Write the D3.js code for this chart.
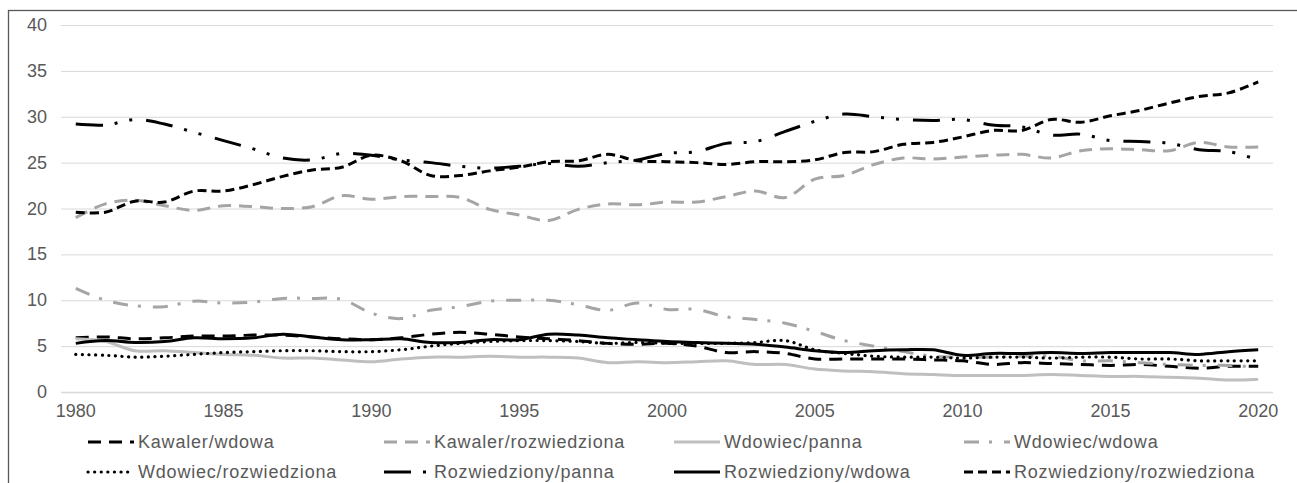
<!DOCTYPE html>
<html>
<head>
<meta charset="utf-8">
<script src="https://d3js.org/d3.v7.min.js"></script>
<style>
  body { margin: 0; background: #fff; }
  svg text { font-family: "Liberation Sans", Arial, sans-serif; fill: #595959; }
</style>
</head>
<body>
<svg id="chart" width="1297" height="483"></svg>
<script>
// years on the category axis
const years = d3.range(1980, 2021);
const xTickYears = [1980, 1985, 1990, 1995, 2000, 2005, 2010, 2015, 2020];
const yTicks = [0, 5, 10, 15, 20, 25, 30, 35, 40];

// series values, 1980..2020
const kawalerWdowa = [5.9, 6.0, 5.8, 5.9, 6.1, 6.1, 6.2, 6.2, 6.0, 5.8, 5.7, 5.9, 6.3, 6.5, 6.3, 6.0, 5.8, 5.6, 5.3, 5.2, 5.3, 5.0, 4.3, 4.4, 4.2, 3.6, 3.6, 3.6, 3.6, 3.5, 3.4, 3.0, 3.2, 3.1, 3.0, 2.9, 3.0, 2.8, 2.6, 2.8, 2.8];
const kawalerRozwiedziona = [19.0, 20.5, 20.9, 20.3, 19.8, 20.3, 20.2, 20.0, 20.2, 21.4, 21.0, 21.3, 21.3, 21.2, 19.9, 19.3, 18.7, 19.9, 20.5, 20.4, 20.7, 20.7, 21.3, 21.9, 21.2, 23.2, 23.6, 24.8, 25.5, 25.4, 25.6, 25.8, 25.9, 25.5, 26.3, 26.5, 26.4, 26.3, 27.2, 26.7, 26.7];
const wdowiecPanna = [5.8, 5.5, 4.5, 4.5, 4.3, 4.1, 4.0, 3.7, 3.7, 3.5, 3.3, 3.6, 3.8, 3.8, 3.9, 3.8, 3.8, 3.7, 3.2, 3.3, 3.2, 3.3, 3.4, 3.0, 3.0, 2.5, 2.3, 2.2, 2.0, 1.9, 1.8, 1.8, 1.8, 1.9, 1.8, 1.7, 1.7, 1.6, 1.5, 1.3, 1.4];
const wdowiecWdowa = [11.3, 10.0, 9.4, 9.3, 9.9, 9.7, 9.8, 10.2, 10.2, 10.1, 8.6, 8.0, 8.9, 9.3, 9.9, 10.0, 10.0, 9.5, 8.9, 9.7, 9.0, 9.0, 8.2, 7.9, 7.5, 6.6, 5.6, 5.0, 4.4, 3.9, 3.8, 3.8, 3.9, 3.9, 3.4, 3.4, 3.2, 3.0, 2.9, 2.9, 2.7];
const wdowiecRozwiedziona = [4.1, 4.0, 3.8, 3.9, 4.1, 4.3, 4.4, 4.5, 4.5, 4.4, 4.4, 4.6, 5.0, 5.3, 5.5, 5.6, 5.6, 5.5, 5.3, 5.4, 5.3, 5.3, 5.3, 5.4, 5.6, 4.6, 4.2, 3.9, 3.8, 3.8, 3.7, 3.8, 3.8, 3.7, 3.8, 3.8, 3.6, 3.6, 3.4, 3.4, 3.4];
const rozwiedzionyPanna = [29.2, 29.1, 29.7, 29.2, 28.3, 27.4, 26.5, 25.5, 25.3, 26.0, 25.8, 25.3, 25.0, 24.6, 24.4, 24.6, 24.9, 24.6, 25.0, 25.3, 26.0, 26.2, 27.1, 27.3, 28.4, 29.5, 30.3, 30.0, 29.7, 29.6, 29.7, 29.1, 28.9, 28.0, 28.1, 27.4, 27.3, 27.1, 26.4, 26.2, 25.3];
const rozwiedzionyWdowa = [5.3, 5.6, 5.4, 5.5, 5.9, 5.8, 5.9, 6.3, 6.0, 5.7, 5.7, 5.8, 5.4, 5.4, 5.7, 5.7, 6.3, 6.2, 5.9, 5.7, 5.5, 5.4, 5.3, 5.2, 4.9, 4.5, 4.3, 4.5, 4.6, 4.6, 4.0, 4.2, 4.2, 4.3, 4.2, 4.3, 4.3, 4.3, 4.1, 4.4, 4.6];
const rozwiedzionyRozwiedziona = [19.6, 19.6, 20.8, 20.7, 21.9, 21.9, 22.6, 23.5, 24.2, 24.5, 25.8, 25.2, 23.6, 23.6, 24.1, 24.5, 25.1, 25.2, 25.9, 25.2, 25.1, 25.0, 24.8, 25.1, 25.1, 25.3, 26.1, 26.2, 27.0, 27.2, 27.8, 28.5, 28.5, 29.7, 29.4, 30.1, 30.7, 31.5, 32.2, 32.6, 33.8];

const seriesNames = ["Kawaler/wdowa", "Kawaler/rozwiedziona", "Wdowiec/panna", "Wdowiec/wdowa",
  "Wdowiec/rozwiedziona", "Rozwiedziony/panna", "Rozwiedziony/wdowa", "Rozwiedziony/rozwiedziona"];
const seriesValues = [kawalerWdowa, kawalerRozwiedziona, wdowiecPanna, wdowiecWdowa,
  wdowiecRozwiedziona, rozwiedzionyPanna, rozwiedzionyWdowa, rozwiedzionyRozwiedziona];

// line styles
const styles = [
  { color: "#000000", dash: "13,8", cap: "butt" },
  { color: "#a5a5a5", dash: "13,8", cap: "butt" },
  { color: "#bfbfbf", dash: null, cap: "butt" },
  { color: "#a5a5a5", dash: "15,10,3,12", cap: "butt" },
  { color: "#000000", dash: "0.1,6.5", cap: "round" },
  { color: "#000000", dash: "27,12,3,12,3,14", cap: "butt" },
  { color: "#000000", dash: null, cap: "butt" },
  { color: "#000000", dash: "9,5", cap: "butt" }
];

const svg = d3.select("#chart");

// outer frame (only top and left visible)
svg.append("rect")
  .attr("x", 8.5).attr("y", 10.5)
  .attr("width", 1400).attr("height", 600)
  .attr("fill", "none")
  .attr("stroke", "#595959")
  .attr("stroke-width", 1.3);

const plotLeft = 61, plotRight = 1273;
const x = d3.scalePoint().domain(years).range([plotLeft, plotRight]).padding(0.5);
const y = d3.scaleLinear().domain([0, 40]).range([392, 25]);

// gridlines
svg.append("g").selectAll("line")
  .data(yTicks)
  .join("line")
  .attr("x1", plotLeft).attr("x2", plotRight)
  .attr("y1", d => y(d) + 0.5).attr("y2", d => y(d) + 0.5)
  .attr("stroke", "#d9d9d9")
  .attr("stroke-width", d => d === 0 ? 1.3 : 1);

// y axis labels
svg.append("g").selectAll("text")
  .data(yTicks)
  .join("text")
  .attr("x", 47)
  .attr("y", d => y(d) + 6)
  .attr("text-anchor", "end")
  .style("font-size", "18px")
  .text(d => d);

// x axis labels
svg.append("g").selectAll("text")
  .data(xTickYears)
  .join("text")
  .attr("x", d => x(d))
  .attr("y", 417)
  .attr("text-anchor", "middle")
  .style("font-size", "18px")
  .text(d => d);

// lines
const line = d3.line()
  .x((d, i) => x(years[i]))
  .y(d => y(d))
  .curve(d3.curveCatmullRom.alpha(0.5));

seriesValues.forEach((vals, i) => {
  const s = styles[i];
  svg.append("path")
    .datum(vals)
    .attr("d", line)
    .attr("fill", "none")
    .attr("stroke", s.color)
    .attr("stroke-width", i === 4 ? 3.2 : 3)
    .attr("stroke-dasharray", s.dash)
    .attr("stroke-linecap", s.cap)
    .attr("stroke-linejoin", "round");
});

// legend, 2 rows x 4 columns
const legendCols = [88, 384, 674, 964];
const legendRows = [442, 472];
const legend = svg.append("g");
seriesNames.forEach((name, i) => {
  const s = styles[i];
  const lx = legendCols[i % 4];
  const ly = legendRows[Math.floor(i / 4)];
  legend.append("line")
    .attr("x1", lx).attr("x2", lx + 46)
    .attr("y1", ly).attr("y2", ly)
    .attr("stroke", s.color)
    .attr("stroke-width", i === 4 ? 3.2 : 3)
    .attr("stroke-dasharray", s.dash)
    .attr("stroke-linecap", s.cap);
  legend.append("text")
    .attr("x", lx + 50)
    .attr("y", ly + 6)
    .style("font-size", "18px")
    .style("letter-spacing", "0.8px")
    .text(name);
});
</script>
</body>
</html>
